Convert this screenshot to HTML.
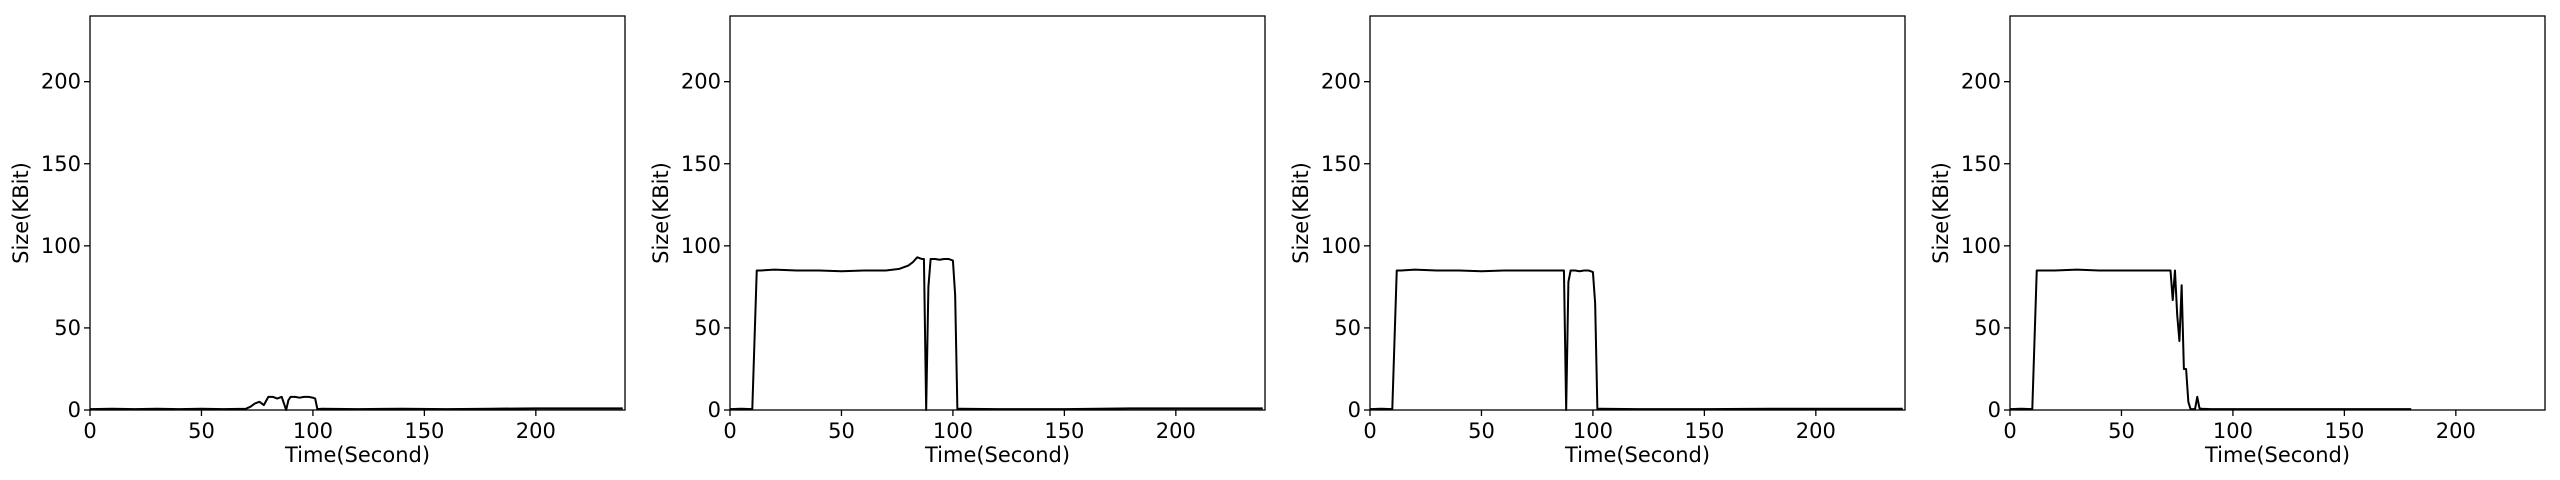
<!DOCTYPE html>
<html><head><meta charset="utf-8">
<style>
html,body{margin:0;padding:0;background:#fff;width:2560px;height:480px;overflow:hidden}
svg text{font-family:"DejaVu Sans","Liberation Sans",sans-serif;fill:#000}
</style></head>
<body>
<svg id="chart" width="2560" height="480" viewBox="0 0 2560 480" xmlns="http://www.w3.org/2000/svg"></svg>
<script>
const xTicks = [0, 50, 100, 150, 200];
const yTicks = [0, 50, 100, 150, 200];
const xMax = 240, yMax = 240;
const panelLeft = [90, 730, 1370, 2010];

const t1 = [0,10,20,30,40,50,60,70,72,74,76,78,80,82,84,86,87,88,89,90,92,94,96,98,100,101,102,104,120,140,160,180,200,220,239];
const v1 = [0.5,0.8,0.5,0.8,0.5,0.8,0.5,0.8,2,4,5,3,8,8,7,8,4,0,6,8,8,7.5,8,8,7.5,7,0.5,0.8,0.5,0.8,0.5,0.8,1,1,1];

const t2 = [0,5,10,12,14,20,30,40,50,60,70,76,78,80,82,84,86,87,88,89,90,92,94,96,98,100,101,102,103,120,150,180,200,239];
const v2 = [0.5,0.8,0.5,85,85,85.5,85,85,84.5,85,85,86,87,88,90,93,92,92,0,75,92,92,91.5,92,92,91,70,0.5,0.8,0.5,0.5,1,1,1];

const t3 = [0,5,10,12,14,20,30,40,50,60,70,80,86,87,88,89,90,92,94,96,98,100,101,102,103,120,150,180,200,239];
const v3 = [0.5,0.8,0.5,85,85,85.5,85,85,84.5,85,85,85,85,85,0,78,85,85,84.5,85,85,84,65,0.5,0.8,0.5,0.5,0.8,0.8,0.8];

const t4 = [0,5,10,12,14,20,30,40,50,60,70,72,73,74,75,76,77,78,79,80,81,82,83,84,85,86,90,100,140,180];
const v4 = [0.5,0.8,0.5,85,85,85,85.5,85,85,85,85,85,67,85,58,42,76,25,25,5,0.5,0.5,0.5,8,1,0.8,0.5,0.5,0.5,0.5];

const seriesT = [t1, t2, t3, t4];
const seriesV = [v1, v2, v3, v4];

const NS = "http://www.w3.org/2000/svg";
const svg = document.getElementById('chart');
const top0 = 16, bottom0 = 410, pw = 535;
function mk(tag, attrs, parent){const e=document.createElementNS(NS,tag);for(const k in attrs)e.setAttribute(k,attrs[k]);(parent||svg).appendChild(e);return e;}

panelLeft.forEach((L, p) => {
  const sx = v => L + v / xMax * pw;
  const sy = v => bottom0 - v / yMax * (bottom0 - top0);
  const g = mk('g', {});
  
  
  const d = seriesT[p].map((t, i) => (i ? 'L' : 'M') + sx(t).toFixed(2) + ',' + sy(seriesV[p][i]).toFixed(2)).join(' ');
  const line = mk('path', {d: d, fill: 'none', stroke: '#000', 'stroke-width': 2, 'stroke-linejoin': 'round'}, g);
  
  
  const fr = mk('rect', {x: L, y: top0, width: pw, height: bottom0 - top0, fill: 'none', stroke: '#000', 'stroke-width': 1.3}, g);
  
  
  xTicks.forEach(v => {
    mk('line', {x1: sx(v), x2: sx(v), y1: bottom0, y2: bottom0 + 6, stroke: '#000', 'stroke-width': 1.3}, g);
    const tx = mk('text', {x: sx(v), y: bottom0 + 28, 'font-size': 21, 'text-anchor': 'middle'}, g);
    tx.textContent = v;
    
    
  });
  yTicks.forEach(v => {
    mk('line', {x1: L - 6, x2: L, y1: sy(v), y2: sy(v), stroke: '#000', 'stroke-width': 1.3}, g);
    const ty = mk('text', {x: L - 9, y: sy(v) + 7, 'font-size': 21, 'text-anchor': 'end'}, g);
    ty.textContent = v;
    
    
  });
  const xl = mk('text', {x: L + pw / 2, y: 462, 'font-size': 21, 'text-anchor': 'middle'}, g);
  xl.textContent = 'Time(Second)';
  
  
  const yl = mk('text', {x: 0, y: 0, 'font-size': 21, 'text-anchor': 'middle', transform: 'translate(' + (L - 62) + ',' + ((top0 + bottom0) / 2) + ') rotate(-90)'}, g);
  yl.textContent = 'Size(KBit)';
  
  
});
</script>
</body></html>
